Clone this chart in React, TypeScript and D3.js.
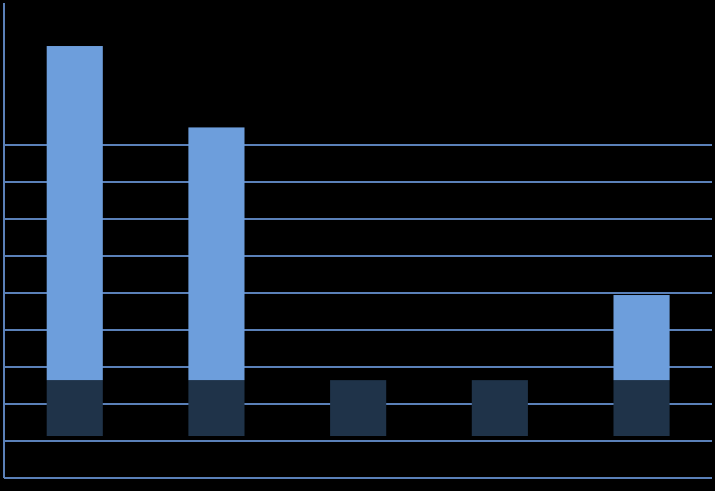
import React from "react";
import * as d3 from "d3";

const categories = ["A", "B", "C", "D", "E"];
const baseValues = [11.35, 11.35, 11.35, 11.35, 11.35];
const darkValues = [15.1, 15.1, 15.1, 15.1, 15.1];
const lightValues = [90.3, 68.3, 0, 0, 23.0];
const gridTicks = [10, 20, 30, 40, 50, 60, 70, 80, 90];

const W = 715;
const H = 491;

export default function App() {
  const x = d3.scaleBand<string>().domain(categories).range([3.9, 712.4]).paddingInner(0.604).paddingOuter(0.302);
  const y = d3.scaleLinear().domain([0, 10]).range([478, 441]);

  const rows = categories.map((c, i) => ({ c, base: baseValues[i], dark: darkValues[i], light: lightValues[i] }));
  const stack = d3.stack<any>().keys(["base", "dark", "light"])(rows);
  const fills: Record<string, string> = { base: "none", dark: "#1f3349", light: "#6d9edc" };
  const gridColor = "#5a80b8";

  return (
    <div style={{ position: "absolute", left: 0, top: 0, width: W, height: H, background: "#000" }}>
      <svg width={W} height={H} style={{ display: "block" }}>
        <rect x={0} y={0} width={W} height={H} fill="#000" />
        {gridTicks.map((t) => (
          <line key={t} x1={4} x2={712} y1={y(t)} y2={y(t)} stroke={gridColor} strokeWidth={2} />
        ))}
        <line x1={4} x2={712} y1={y(0)} y2={y(0)} stroke={gridColor} strokeWidth={2} />
        <line x1={4} x2={4} y1={3} y2={y(0)} stroke={gridColor} strokeWidth={2} />
        {stack.map((s) =>
          s.map((d, i) =>
            fills[s.key] === "none" || d[1] - d[0] <= 0 ? null : (
              <rect
                key={s.key + i}
                x={x(categories[i])}
                width={x.bandwidth()}
                y={y(d[1])}
                height={y(d[0]) - y(d[1])}
                fill={fills[s.key]}
              />
            )
          )
        )}
      </svg>
    </div>
  );
}
